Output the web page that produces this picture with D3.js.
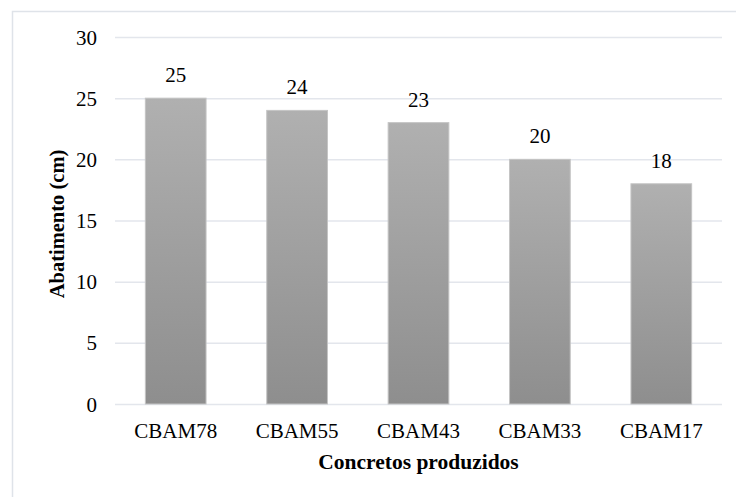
<!DOCTYPE html>
<html>
<head>
<meta charset="utf-8">
<script src="https://cdn.jsdelivr.net/npm/d3@7"></script>
<style>
  html, body { margin: 0; padding: 0; background: #ffffff; }
  svg { display: block; }
  svg text { font-family: "Liberation Serif", "Times New Roman", Times, "DejaVu Serif", serif !important; fill: #000; }
</style>
</head>
<body>
<script>
// Slump test results for each concrete mix
const categories = ["CBAM78", "CBAM55", "CBAM43", "CBAM33", "CBAM17"];
const slumpValues = [25, 24, 23, 20, 18];
const yTicks = [0, 5, 10, 15, 20, 25, 30];
const yTitle = "Abatimento (cm)";
const xTitle = "Concretos produzidos";

const W = 736, H = 497;
const plot = { left: 115, right: 722, top: 37, bottom: 404 };
const FONT = "'Liberation Serif', 'Times New Roman', Times, serif";

const svg = d3.select("body").append("svg")
  .attr("width", W).attr("height", H)
  .style("font-family", FONT);

// Vertical gradient used for the bars
const grad = svg.append("defs").append("linearGradient")
  .attr("id", "barGrad").attr("x1", 0).attr("y1", 0).attr("x2", 0).attr("y2", 1);
grad.append("stop").attr("offset", "0%").attr("stop-color", "#b0b0b0");
grad.append("stop").attr("offset", "100%").attr("stop-color", "#8e8e8e");

// Chart frame
svg.append("rect")
  .attr("x", 12.5).attr("y", 11.5)
  .attr("width", W).attr("height", H)
  .attr("fill", "none").attr("stroke", "#dfe3e9").attr("stroke-width", 1.5);

const x = d3.scaleBand().domain(categories)
  .range([plot.left, plot.right]).paddingInner(0.5).paddingOuter(0.25);
const y = d3.scaleLinear().domain([0, 30]).range([plot.bottom, plot.top]);

// Horizontal gridlines and value axis labels
const yAxis = d3.axisLeft(y).tickValues(yTicks)
  .tickSize(-(plot.right - plot.left)).tickPadding(18).tickFormat(d3.format("d"));
const gy = svg.append("g").attr("transform", `translate(${plot.left},0)`).call(yAxis)
  .attr("font-family", null);
gy.select(".domain").remove();
gy.selectAll(".tick line").attr("stroke", "#e3e6ec").attr("stroke-width", 1.5);
gy.selectAll(".tick text").attr("font-size", 21).attr("fill", "#000").attr("dy", "0.34em")
  .style("font-family", FONT);

// Bars
svg.append("g").selectAll("rect").data(categories).join("rect")
  .attr("x", d => x(d))
  .attr("y", (d, i) => y(slumpValues[i]))
  .attr("width", x.bandwidth())
  .attr("height", (d, i) => y(0) - y(slumpValues[i]))
  .attr("fill", "url(#barGrad)")
  .attr("stroke", "#c4c4c4").attr("stroke-width", 1);

// Value labels
svg.append("g").selectAll("text").data(categories).join("text")
  .attr("x", d => x(d) + x.bandwidth() / 2)
  .attr("y", (d, i) => y(slumpValues[i]) - 16)
  .attr("text-anchor", "middle").attr("font-size", 21)
  .style("font-family", FONT)
  .text((d, i) => slumpValues[i]);

// Category axis labels
const xAxis = d3.axisBottom(x).tickSize(0).tickPadding(0);
const gx = svg.append("g").attr("transform", `translate(0,${plot.bottom})`).call(xAxis)
  .attr("font-family", null);
gx.select(".domain").remove();
gx.selectAll(".tick text").attr("font-size", 21).attr("fill", "#000")
  .attr("dy", null).attr("y", 34)
  .style("font-family", FONT);

// Axis titles
svg.append("text")
  .attr("x", (plot.left + plot.right) / 2).attr("y", 469)
  .attr("text-anchor", "middle").attr("font-size", 21.5).attr("font-weight", "bold")
  .style("font-family", FONT)
  .text(xTitle);
svg.append("text")
  .attr("transform", `translate(64,224) rotate(-90)`)
  .attr("text-anchor", "middle").attr("font-size", 20.5).attr("font-weight", "bold")
  .style("font-family", FONT)
  .text(yTitle);
</script>
</body>
</html>
